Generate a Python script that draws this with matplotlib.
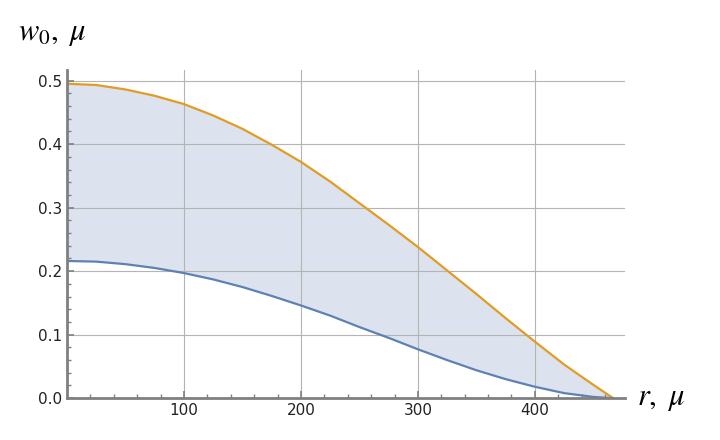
import numpy as np
import matplotlib
matplotlib.use("Agg")
import matplotlib.pyplot as plt
from matplotlib.ticker import MultipleLocator

plt.rcParams['mathtext.fontset'] = 'stix'

r = [0, 25, 50, 75, 100, 125, 150, 175, 200, 225, 250, 275, 300, 325, 350, 375, 400, 425, 450, 467]
w_upper = [0.495, 0.493, 0.486, 0.476, 0.463, 0.445, 0.424, 0.399, 0.372, 0.341, 0.307, 0.273,
           0.238, 0.201, 0.164, 0.126, 0.089, 0.053, 0.021, 0.0]
w_lower = [0.216, 0.215, 0.211, 0.205, 0.197, 0.187, 0.175, 0.161, 0.146, 0.130, 0.112, 0.095,
           0.077, 0.060, 0.044, 0.030, 0.018, 0.008, 0.002, 0.0]

fig = plt.figure(figsize=(7.2, 4.4), dpi=100)
ax = fig.add_axes([0.093, 0.095, 0.775, 0.745])

ax.fill_between(r, w_lower, w_upper, color="#dde3ee", lw=0)
ax.plot(r, w_upper, color="#e19c24", lw=1.6)
ax.plot(r, w_lower, color="#5e81b5", lw=1.6)

ax.set_xlim(0, 477)
ax.set_ylim(0, 0.516)
ax.xaxis.set_major_locator(MultipleLocator(100))
ax.xaxis.set_minor_locator(MultipleLocator(20))
ax.yaxis.set_major_locator(MultipleLocator(0.1))
ax.yaxis.set_minor_locator(MultipleLocator(0.02))
ax.set_xticks([100, 200, 300, 400])
ax.grid(True, which="major", color="#b4b4b4", lw=0.8)

for s in ["top", "right"]:
    ax.spines[s].set_visible(False)
for s in ["left", "bottom"]:
    ax.spines[s].set_color("#808080")
    ax.spines[s].set_linewidth(2)
ax.tick_params(which="major", direction="in", length=5, width=1.2, color="#808080",
               labelsize=11, labelcolor="#222222")
ax.tick_params(which="minor", direction="in", length=3, width=1, color="#808080")

fig.text(0.025, 0.91, r"$w_0,\ \mu$", fontsize=22)
fig.text(0.885, 0.08, r"$r,\ \mu$", fontsize=22)

fig.savefig("out.png", dpi=100)
